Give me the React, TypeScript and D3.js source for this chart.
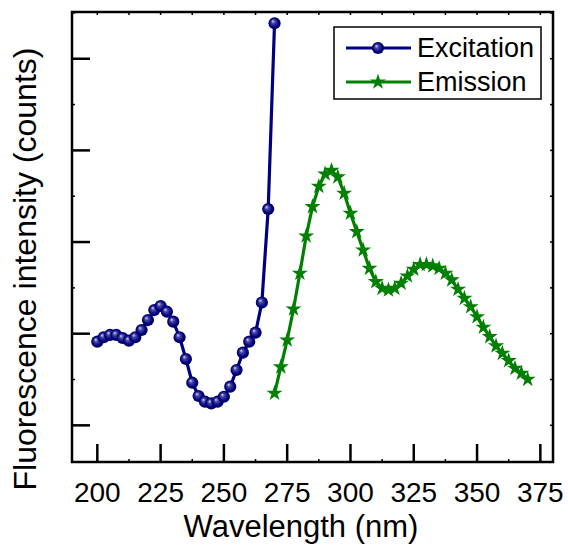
import React from 'react';
import * as d3 from 'd3';

// Wavelengths (nm) and intensities (arbitrary units)
const excitationWl = [
  200, 202.5, 205, 207.5, 210, 212.5, 215, 217.5, 220, 222.5,
  225, 227.5, 230, 232.5, 235, 237.5, 240, 242.5, 245, 247.5,
  250, 252.5, 255, 257.5, 260, 262.5, 265, 267.5, 270,
];
const excitationVal = [
  1.913, 1.961, 1.986, 1.986, 1.953, 1.924, 1.961, 2.040, 2.149, 2.258,
  2.302, 2.240, 2.131, 1.961, 1.724, 1.465, 1.320, 1.258, 1.240, 1.258,
  1.312, 1.422, 1.604, 1.793, 1.913, 2.011, 2.340, 3.360, 5.387,
];

const emissionWl = [
  270, 272.5, 275, 277.5, 280, 282.5, 285, 287.5, 290, 292.5,
  295, 297.5, 300, 302.5, 305, 307.5, 310, 312.5, 315, 317.5,
  320, 322.5, 325, 327.5, 330, 332.5, 335, 337.5, 340, 342.5,
  345, 347.5, 350, 352.5, 355, 357.5, 360, 362.5, 365, 367.5, 370,
];
const emissionVal = [
  1.350, 1.637, 1.931, 2.269, 2.659, 3.066, 3.386, 3.608, 3.742, 3.781,
  3.710, 3.532, 3.314, 3.113, 2.913, 2.713, 2.567, 2.495, 2.477, 2.495,
  2.550, 2.629, 2.703, 2.755, 2.755, 2.739, 2.713, 2.659, 2.586, 2.484,
  2.386, 2.294, 2.185, 2.070, 1.967, 1.866, 1.786, 1.705, 1.622, 1.568, 1.502,
];

const xTicks = [200, 225, 250, 275, 300, 325, 350, 375];
const yTicks = [1, 2, 3, 4, 5];

const W = 568;
const H = 547;
const left = 72, right = 553, top = 12, bottom = 462;
const navy = '#000080';
const green = '#008000';
const font = '"Liberation Sans", Arial, sans-serif';

export default function App() {
  const x = d3.scaleLinear().domain([190, 380]).range([left, right]);
  const y = d3.scaleLinear().domain([0.6, 5.51]).range([bottom, top]);

  const exc = excitationWl.map((w, i) => [w, excitationVal[i]] as [number, number]);
  const emi = emissionWl.map((w, i) => [w, emissionVal[i]] as [number, number]);

  const line = d3.line<[number, number]>().x(d => x(d[0])).y(d => y(d[1]));
  const star = d3.symbol().type(d3.symbolStar).size(80)()!;

  const xMinor = d3.range(187.5, 380, 12.5).filter(v => v > 190);
  const yMinor = d3.range(0.5, 5.6, 0.5).filter(v => v > 0.6 && v < 5.51);

  const ball = (cx: number, cy: number, k: string) => (
    <circle key={k} cx={cx} cy={cy} r={6.1} fill="url(#ball)" />
  );
  const starAt = (cx: number, cy: number, k: string) => (
    <path key={k} d={star} transform={`translate(${cx},${cy})`} fill={green} />
  );

  return (
    <svg width={W} height={H} style={{ position: 'absolute', left: 0, top: 0, background: '#fff' }}>
      <defs>
        <radialGradient id="ball" cx="0.5" cy="0.5" r="0.5" fx="0.35" fy="0.32">
          <stop offset="0" stopColor="#d8d8f0" />
          <stop offset="0.3" stopColor="#4848a8" />
          <stop offset="0.75" stopColor="#00007a" />
          <stop offset="1" stopColor="#000060" />
        </radialGradient>
      </defs>

      {/* ticks */}
      <g stroke="#000" strokeWidth={2.5}>
        {xTicks.map(t => (
          <g key={'xt' + t}>
            <line x1={x(t)} x2={x(t)} y1={bottom} y2={bottom - 18} />
            <line x1={x(t)} x2={x(t)} y1={top} y2={top + 3} strokeWidth={1.5} />
          </g>
        ))}
        {xMinor.filter(v => !xTicks.includes(v)).map(t => (
          <g key={'xm' + t}>
            <line x1={x(t)} x2={x(t)} y1={bottom} y2={bottom - 3} strokeWidth={1.5} />
            <line x1={x(t)} x2={x(t)} y1={top} y2={top + 3} strokeWidth={1.5} />
          </g>
        ))}
        {yTicks.map(t => (
          <g key={'yt' + t}>
            <line x1={left} x2={left + 18} y1={y(t)} y2={y(t)} />
            <line x1={right} x2={right - 3} y1={y(t)} y2={y(t)} strokeWidth={1.5} />
          </g>
        ))}
        {yMinor.filter(v => !yTicks.includes(v)).map(t => (
          <g key={'ym' + t}>
            <line x1={left} x2={left + 3} y1={y(t)} y2={y(t)} strokeWidth={1.5} />
            <line x1={right} x2={right - 3} y1={y(t)} y2={y(t)} strokeWidth={1.5} />
          </g>
        ))}
      </g>

      {/* frame */}
      <rect x={left} y={top} width={right - left} height={bottom - top} fill="none" stroke="#000" strokeWidth={2.5} />

      {/* series */}
      <path d={line(exc)!} fill="none" stroke={navy} strokeWidth={3.2} />
      {exc.map((d, i) => ball(x(d[0]), y(d[1]), 'e' + i))}
      <path d={line(emi)!} fill="none" stroke={green} strokeWidth={3.2} />
      {emi.map((d, i) => starAt(x(d[0]), y(d[1]), 'm' + i))}

      {/* tick labels */}
      <g fontFamily={font} fontSize={28} textAnchor="middle" fill="#000">
        {xTicks.map(t => (
          <text key={'xl' + t} x={x(t)} y={502}>{t}</text>
        ))}
      </g>

      <text x={301} y={537} fontFamily={font} fontSize={31} textAnchor="middle">Wavelength (nm)</text>
      <text transform="translate(36,269) rotate(-90)" fontFamily={font} fontSize={32} textAnchor="middle">
        Fluorescence intensity (counts)
      </text>

      {/* legend */}
      <rect x={334} y={27} width={207} height={72} fill="#fff" stroke="#000" strokeWidth={1.5} />
      <line x1={346} x2={411} y1={48} y2={48} stroke={navy} strokeWidth={3.2} />
      {ball(378, 48, 'lg1')}
      <line x1={346} x2={411} y1={82} y2={82} stroke={green} strokeWidth={3.2} />
      {starAt(378, 82, 'lg2')}
      <g fontFamily={font} fontSize={27} fill="#000">
        <text x={417} y={57}>Excitation</text>
        <text x={417} y={91}>Emission</text>
      </g>
    </svg>
  );
}
